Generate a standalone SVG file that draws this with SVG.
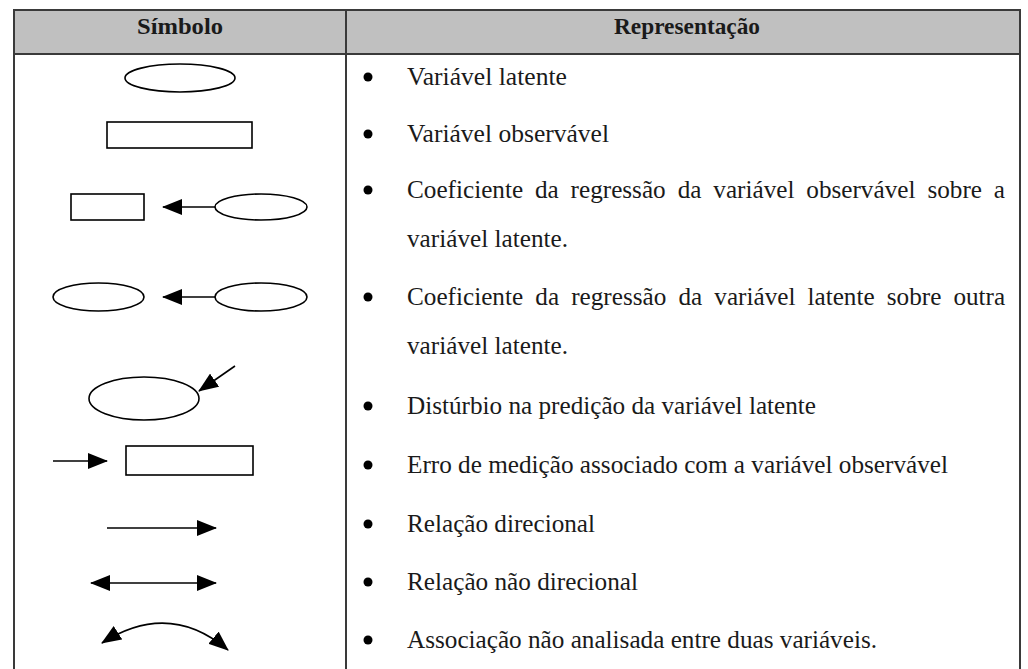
<svg xmlns="http://www.w3.org/2000/svg" width="1028" height="669" viewBox="0 0 1028 669">
<defs>
<style>
.grid{stroke:#3a3a3a;stroke-width:2;fill:none}
.shp{fill:#fff;stroke:#000;stroke-width:1.6}
.ln{fill:none;stroke:#000;stroke-width:1.6}
.hd{font-size:24px;font-weight:bold;fill:#1a1a1a;text-anchor:middle}
.tx{font-size:25.2px;fill:#1a1a1a}
.bl{fill:#000}
</style>
<marker id="ah" viewBox="0 0 20 16" refX="19" refY="8" markerWidth="20" markerHeight="16" markerUnits="userSpaceOnUse" orient="auto-start-reverse">
<path d="M0,0 L20,8 L0,16 Z" fill="#000"/>
</marker>
</defs>
<rect width="1028" height="669" fill="#fff"/>
<g id="table" font-family="Liberation Serif, serif">
<rect x="14" y="10" width="1006" height="44" fill="#c0c0c0"/>
<line class="grid" x1="14" y1="10" x2="1020" y2="10"/>
<line class="grid" x1="14" y1="54" x2="1020" y2="54"/>
<line class="grid" x1="14" y1="9" x2="14" y2="669"/>
<line class="grid" x1="1020" y1="9" x2="1020" y2="669"/>
<line class="grid" x1="346" y1="10" x2="346" y2="669"/>
<text class="hd" x="180" y="34" textLength="86" lengthAdjust="spacingAndGlyphs">Símbolo</text>
<text class="hd" x="687" y="34" textLength="146" lengthAdjust="spacingAndGlyphs">Representação</text>
</g>
<g id="sym-latente"><ellipse class="shp" cx="180" cy="78" rx="55" ry="14"/></g>
<g id="sym-observavel"><rect class="shp" x="107" y="122" width="145" height="26"/></g>
<g id="sym-coef-obs">
<rect class="shp" x="71" y="194" width="73" height="26"/>
<ellipse class="shp" cx="261" cy="207" rx="46" ry="13"/>
</g>
<g id="sym-coef-lat">
<ellipse class="shp" cx="98.5" cy="297" rx="45.5" ry="14"/>
<ellipse class="shp" cx="261" cy="297" rx="46" ry="14"/>
</g>
<g id="sym-disturbio"><ellipse class="shp" cx="144" cy="398.5" rx="55" ry="21.5"/></g>
<g id="sym-erro"><rect class="shp" x="126" y="446" width="127" height="29"/></g>
<g id="connectors">
<line class="ln" x1="215" y1="207" x2="163" y2="207" marker-end="url(#ah)"/>
<line class="ln" x1="215" y1="297" x2="163" y2="297" marker-end="url(#ah)"/>
<line class="ln" x1="235" y1="366" x2="199" y2="391" marker-end="url(#ah)"/>
<line class="ln" x1="53" y1="461" x2="107" y2="461" marker-end="url(#ah)"/>
<line class="ln" x1="107" y1="528" x2="216" y2="528" marker-end="url(#ah)"/>
<line class="ln" x1="91" y1="583" x2="216" y2="583" marker-start="url(#ah)" marker-end="url(#ah)"/>
<path class="ln" d="M102,643 Q169,600 228,650" marker-start="url(#ah)" marker-end="url(#ah)"/>
</g>
<g id="bullets">
<circle class="bl" cx="368" cy="77" r="4.5"/>
<circle class="bl" cx="368" cy="134" r="4.5"/>
<circle class="bl" cx="368" cy="190" r="4.5"/>
<circle class="bl" cx="368" cy="297" r="4.5"/>
<circle class="bl" cx="368" cy="406" r="4.5"/>
<circle class="bl" cx="368" cy="465" r="4.5"/>
<circle class="bl" cx="368" cy="524" r="4.5"/>
<circle class="bl" cx="368" cy="582" r="4.5"/>
<circle class="bl" cx="368" cy="640" r="4.5"/>
</g>
<g id="texts" font-family="Liberation Serif, serif">
<text class="tx" x="407" y="85" textLength="160" lengthAdjust="spacingAndGlyphs">Variável latente</text>
<text class="tx" x="407" y="142" textLength="202" lengthAdjust="spacingAndGlyphs">Variável observável</text>
<text class="tx" y="198"><tspan x="407">Coeficiente</tspan><tspan x="535">da</tspan><tspan x="570.6">regressão</tspan><tspan x="677.7">da</tspan><tspan x="713.3">variável</tspan><tspan x="806.3">observável</tspan><tspan x="927.4">sobre</tspan><tspan x="993.8">a</tspan></text>
<text class="tx" x="407" y="247" textLength="161" lengthAdjust="spacingAndGlyphs">variável latente.</text>
<text class="tx" y="305"><tspan x="407">Coeficiente</tspan><tspan x="535.3">da</tspan><tspan x="571.2">regressão</tspan><tspan x="678.4">da</tspan><tspan x="714.3">variável</tspan><tspan x="807.5">latente</tspan><tspan x="886.8">sobre</tspan><tspan x="953.4">outra</tspan></text>
<text class="tx" x="407" y="354" textLength="161" lengthAdjust="spacingAndGlyphs">variável latente.</text>
<text class="tx" x="407" y="414" textLength="409" lengthAdjust="spacingAndGlyphs">Distúrbio na predição da variável latente</text>
<text class="tx" x="407" y="473" textLength="541" lengthAdjust="spacingAndGlyphs">Erro de medição associado com a variável observável</text>
<text class="tx" x="407" y="532" textLength="188" lengthAdjust="spacingAndGlyphs">Relação direcional</text>
<text class="tx" x="407" y="590" textLength="231" lengthAdjust="spacingAndGlyphs">Relação não direcional</text>
<text class="tx" x="407" y="648" textLength="470" lengthAdjust="spacingAndGlyphs">Associação não analisada entre duas variáveis.</text>
</g>
</svg>
